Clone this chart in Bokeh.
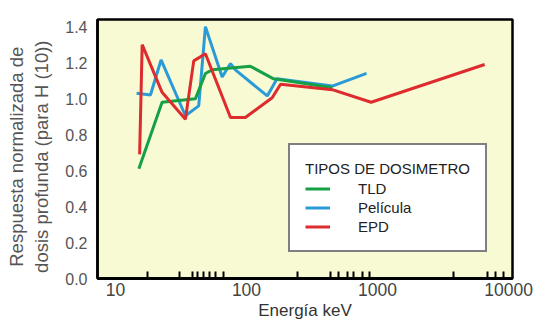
from bokeh.plotting import figure
from bokeh.models import Legend, LegendItem, FixedTicker, NumeralTickFormatter, Range1d
from bokeh.embed import file_html
from bokeh.resources import INLINE

# Data
tld_energy = [15.1, 22.7, 40.8, 48.6, 54.7, 107, 161, 451]
tld_resp = [0.61, 0.98, 1.00, 1.14, 1.16, 1.18, 1.11, 1.06]

film_energy = [14.5, 18.5, 22.3, 34.2, 43.2, 48.6, 65.2, 75.5, 82.3, 144, 171, 451, 824]
film_resp = [1.03, 1.02, 1.215, 0.905, 0.96, 1.40, 1.12, 1.195, 1.16, 1.015, 1.11, 1.07, 1.14]

epd_energy = [15.3, 16.0, 22.7, 34.2, 39.6, 48.6, 75.5, 98, 157, 182, 451, 893, 6560]
epd_resp = [0.69, 1.30, 1.035, 0.885, 1.21, 1.25, 0.895, 0.895, 1.005, 1.08, 1.05, 0.98, 1.19]

x_major_ticks = [10, 100, 1000, 10000]
x_minor_ticks = [17.6, 31, 39, 42, 47, 52, 58, 67, 245, 440, 500, 590, 660, 770, 870,
                 3800, 6900, 8000, 9200]
y_ticks = [0.0, 0.2, 0.4, 0.6, 0.8, 1.0, 1.2, 1.4]

FONT = "Liberation Sans"
NB = "\u00a0\u00a0\u00a0"

p = figure(width=543, height=322, x_axis_type="log",
           x_range=Range1d(7.3, 10700), y_range=Range1d(0, 1.44),
           output_backend="svg", toolbar_location=None,
           min_border_left=97, min_border_right=31, min_border_top=19, min_border_bottom=44)

p.background_fill_color = "#f8fad4"
p.border_fill_color = "white"
p.outline_line_color = "black"
p.outline_line_width = 2.5
p.xgrid.visible = False
p.ygrid.visible = False

r_film = p.line(film_energy, film_resp, line_color="#2b9bd8", line_width=3)
r_tld = p.line(tld_energy, tld_resp, line_color="#16a045", line_width=3)
r_epd = p.line(epd_energy, epd_resp, line_color="#dd2b2e", line_width=3)

# x axis
xa = p.xaxis[0]
xa.ticker = FixedTicker(ticks=x_major_ticks, minor_ticks=x_minor_ticks)
xa.formatter = NumeralTickFormatter(format="0")
xa.major_tick_in = 0
xa.major_tick_out = 0
xa.minor_tick_in = 7
xa.minor_tick_out = 0
xa.minor_tick_line_color = "black"
xa.minor_tick_line_width = 2
xa.axis_line_color = "black"
xa.axis_line_width = 3
xa.major_label_text_font = FONT
xa.major_label_text_font_size = "17.5px"
xa.major_label_text_color = "#444444"
xa.major_label_standoff = 4
xa.axis_label = "Energía keV"
xa.axis_label_text_font = FONT
xa.axis_label_text_font_size = "17px"
xa.axis_label_text_font_style = "normal"
xa.axis_label_text_color = "#333333"
xa.axis_label_standoff = 2

# y axis
ya = p.yaxis[0]
ya.ticker = FixedTicker(ticks=y_ticks)
ya.formatter = NumeralTickFormatter(format="0.0")
ya.major_tick_in = 0
ya.major_tick_out = 0
ya.minor_tick_in = 0
ya.minor_tick_out = 0
ya.axis_line_color = "black"
ya.axis_line_width = 2.5
ya.major_label_text_font = FONT
ya.major_label_text_font_size = "16px"
ya.major_label_text_color = "#555555"
ya.major_label_standoff = 10
ya.axis_label = "Respuesta normalizada de" + NB + "\ndosis profunda (para H (10))" + NB
ya.axis_label_text_font = FONT
ya.axis_label_text_font_size = "18.5px"
ya.axis_label_text_font_style = "normal"
ya.axis_label_text_color = "#555555"
ya.axis_label_standoff = 10

legend = Legend(items=[LegendItem(label="TLD", renderers=[r_tld]),
                       LegendItem(label="Película", renderers=[r_film]),
                       LegendItem(label="EPD", renderers=[r_epd])],
                title="TIPOS DE DOSIMETRO", location=(191, 26))
legend.title_text_font = FONT
legend.title_text_font_size = "15px"
legend.title_text_font_style = "normal"
legend.title_text_color = "#222222"
legend.title_standoff = 3
legend.label_text_font = FONT
legend.label_text_font_size = "15px"
legend.label_text_color = "#222222"
legend.glyph_width = 25
legend.glyph_height = 17
legend.label_standoff = 28
legend.spacing = 2
legend.padding = 15
legend.border_line_color = "black"
legend.border_line_width = 2.5
legend.background_fill_color = "white"
legend.background_fill_alpha = 1.0
p.add_layout(legend)

open("out.html", "w").write(file_html(p, INLINE))
